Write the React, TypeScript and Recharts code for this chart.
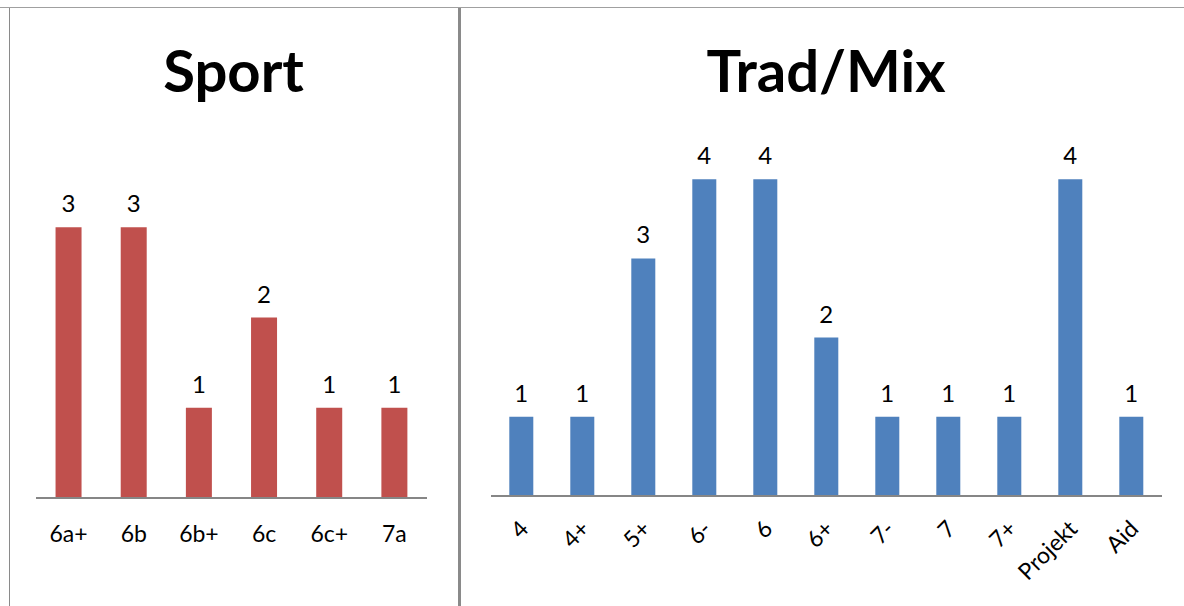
import React from 'react';
import { BarChart, Bar, XAxis, YAxis, LabelList } from 'recharts';

const sportGrades = ['6a+', '6b', '6b+', '6c', '6c+', '7a'];
const sportCounts = [3, 3, 1, 2, 1, 1];

const tradGrades = ['4', '4+', '5+', '6-', '6', '6+', '7-', '7', '7+', 'Projekt', 'Aid'];
const tradCounts = [1, 1, 3, 4, 4, 2, 1, 1, 1, 4, 1];

const FONT = 'Lato, "Open Sans", sans-serif';
const AXIS_GREY = '#868686';

const sportData = sportGrades.map((g, i) => ({ grade: g, count: sportCounts[i] }));
const tradData = tradGrades.map((g, i) => ({ grade: g, count: tradCounts[i] }));

function FlatTick(props: any) {
  const { x, y, payload } = props;
  return (
    <text
      x={x}
      y={y + 27}
      textAnchor="middle"
      dominantBaseline="central"
      fontSize={23}
      fontFamily={FONT}
      fill="#000"
    >
      {payload.value}
    </text>
  );
}

function SlantTick(props: any) {
  const { x, y, payload } = props;
  const ax = x + 2;
  const ay = y + 20;
  return (
    <text
      x={ax}
      y={ay}
      textAnchor="end"
      dominantBaseline="central"
      fontSize={23}
      fontFamily={FONT}
      fill="#000"
      transform={`rotate(-45, ${ax}, ${ay})`}
    >
      {payload.value}
    </text>
  );
}

const titleStyle: React.CSSProperties = {
  position: 'absolute',
  top: 30,
  fontFamily: FONT,
  fontWeight: 700,
  fontSize: 58,
  textAlign: 'center',
  lineHeight: '80px',
  color: '#000',
};

export default function App() {
  return (
    <div style={{ position: 'absolute', left: 0, top: 0, width: 1184, height: 606, background: '#fff', overflow: 'hidden' }}>
      {/* frame lines */}
      <div style={{ position: 'absolute', left: 0, top: 7, width: 1184, height: 1, background: '#a0a0a0' }} />
      <div style={{ position: 'absolute', left: 9, top: 8, width: 1, height: 598, background: '#8a8a8a' }} />
      <div style={{ position: 'absolute', left: 458, top: 8, width: 3, height: 598, background: '#8a8a8a' }} />

      <div style={{ ...titleStyle, left: 9, width: 449 }}>Sport</div>
      <div style={{ ...titleStyle, left: 461, width: 730 }}>Trad/Mix</div>

      <div style={{ position: 'absolute', left: 0, top: 0 }}>
        <BarChart
          width={460}
          height={606}
          data={sportData}
          margin={{ top: 137, right: 33, bottom: 48, left: 36 }}
          barCategoryGap="30%"
        >
          <XAxis
            dataKey="grade"
            height={60}
            tickLine={false}
            axisLine={{ stroke: AXIS_GREY, strokeWidth: 2 }}
            tick={<FlatTick />}
            interval={0}
          />
          <YAxis hide domain={[0, 4]} />
          <Bar dataKey="count" fill="#C0504D" isAnimationActive={false}>
            <LabelList dataKey="count" position="top" offset={15} fontSize={24} fontFamily={FONT} fill="#000" />
          </Bar>
        </BarChart>
      </div>

      <div style={{ position: 'absolute', left: 462, top: 0 }}>
        <BarChart
          width={722}
          height={606}
          data={tradData}
          margin={{ top: 100, right: 22, bottom: 50, left: 29 }}
          barCategoryGap="30%"
        >
          <XAxis
            dataKey="grade"
            height={60}
            tickLine={false}
            axisLine={{ stroke: AXIS_GREY, strokeWidth: 2 }}
            tick={<SlantTick />}
            interval={0}
          />
          <YAxis hide domain={[0, 5]} />
          <Bar dataKey="count" fill="#4F81BD" isAnimationActive={false}>
            <LabelList dataKey="count" position="top" offset={15} fontSize={24} fontFamily={FONT} fill="#000" />
          </Bar>
        </BarChart>
      </div>
    </div>
  );
}
